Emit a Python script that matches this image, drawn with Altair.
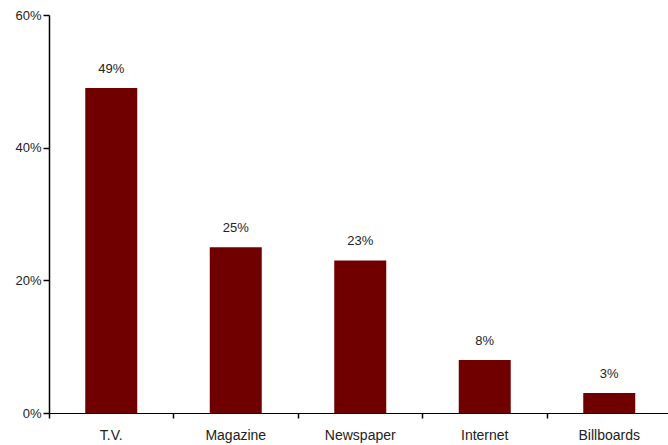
import altair as alt
import pandas as pd

# Share of respondents by advertising medium
media = ["T.V.", "Magazine", "Newspaper", "Internet", "Billboards"]
shares = [0.49, 0.25, 0.23, 0.08, 0.03]
share_labels = ["49%", "25%", "23%", "8%", "3%"]

df = pd.DataFrame({"medium": media, "share": shares, "label": share_labels})

FONT = "Liberation Sans"
INK = "#222222"

x_enc = alt.X(
    "medium:N",
    sort=media,
    title=None,
    scale=alt.Scale(paddingInner=0, paddingOuter=0, range=[0, 622.5]),
    axis=alt.Axis(
        labelAngle=0,
        bandPosition=0,
        tickSize=5,
        tickWidth=1.5,
        labelPadding=10,
        labelFontSize=14,
        labelFont=FONT,
        labelColor=INK,
        domainColor="#000000",
        tickColor="#000000",
        domainWidth=1.2,
        labelAlign="center",
        grid=False,
    ),
)

y_enc = alt.Y(
    "share:Q",
    title=None,
    scale=alt.Scale(domain=[0, 0.6], nice=False),
    axis=alt.Axis(
        values=[0, 0.2, 0.4, 0.6],
        format=".0%",
        tickSize=6,
        tickWidth=1.5,
        labelPadding=2,
        labelFontSize=13,
        labelFont=FONT,
        labelColor=INK,
        domainColor="#000000",
        tickColor="#000000",
        domainWidth=1.5,
        grid=False,
    ),
)

base = alt.Chart(df).encode(x=x_enc, y=y_enc)

bars = base.mark_bar(size=52, color="#700000")

labels = base.mark_text(
    dy=-19, baseline="middle", fontSize=13, font=FONT, color=INK
).encode(text="label:N")

chart = (
    alt.layer(bars, labels)
    .properties(
        width=619,
        height=398,
        background="white",
        autosize=alt.AutoSizeParams(type="none"),
        padding={"left": 49, "top": 15, "right": 0, "bottom": 32},
    )
    .configure_view(stroke=None, strokeWidth=0)
)

chart.save("out.html", embed_options={"renderer": "svg", "actions": False})
